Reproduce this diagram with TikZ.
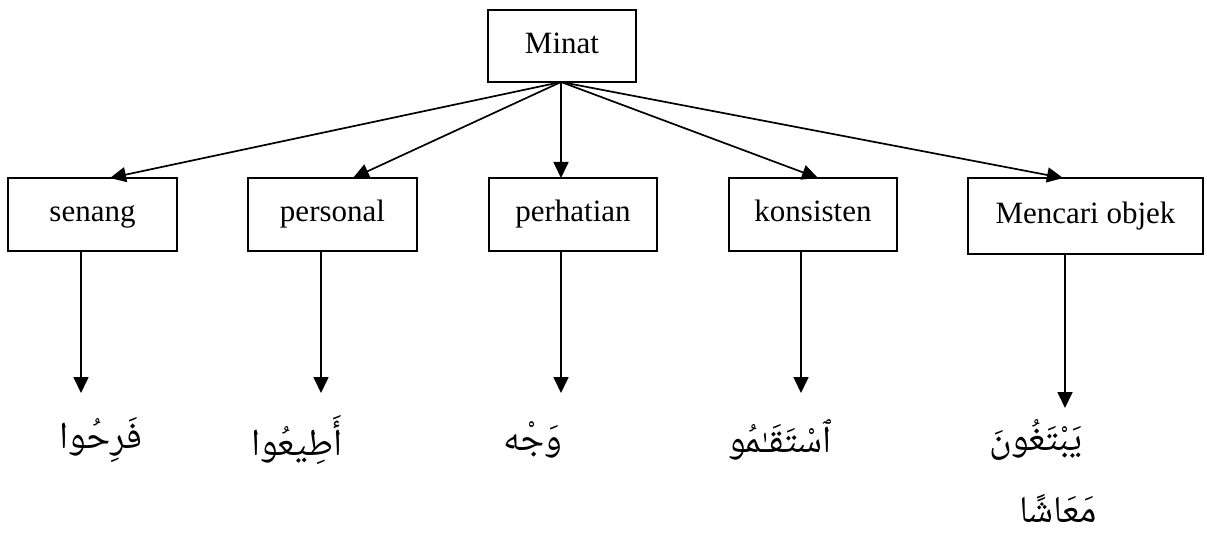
\documentclass[tikz,border=0pt]{standalone}
\usepackage{fontspec}
\setmainfont{Liberation Serif}
\newfontfamily\arabicfont[Script=Arabic]{Noto Naskh Arabic}
\TeXXeTstate=1
\usetikzlibrary{arrows.meta}
\begin{document}
\begin{tikzpicture}[x=1pt,y=-1pt,
  box/.style={draw,line width=1.8pt,minimum height=73pt,inner sep=0pt,font=\fontsize{31}{36}\selectfont,execute at begin node=\strut},
  arr/.style={line width=1.7pt,-{Triangle[length=16pt,width=15pt]}},
  ar/.style={font=\fontsize{38}{46}\selectfont\arabicfont,inner sep=0pt}]
\useasboundingbox (0,0) rectangle (1207,545);
\node[box,minimum width=148pt,minimum height=72pt] (minat) at (562,46) {Minat};
\node[box,minimum width=169pt] (senang) at (92.5,214.5) {senang};
\node[box,minimum width=169pt] (personal) at (332.5,214.5) {personal};
\node[box,minimum width=168pt] (perhatian) at (573,214.5) {perhatian};
\node[box,minimum width=168pt] (konsisten) at (813,214.5) {konsisten};
\node[box,minimum width=235pt,minimum height=76pt] (mencari) at (1085.5,216) {Mencari objek};
% arrow targets on box tops
\coordinate (t1) at (110,178);
\coordinate (t2) at (353,178);
\coordinate (t3) at (561,178);
\coordinate (t4) at (818,178);
\coordinate (t5) at (1063,178);
\coordinate (apex) at (561,82);
\draw[arr] (apex) -- (t1);
\draw[arr] (apex) -- (t2);
\draw[arr] (apex) -- (t3);
\draw[arr] (apex) -- (t4);
\draw[arr] (apex) -- (t5);
% vertical arrows
\coordinate (s1) at (81,251);
\coordinate (s2) at (321,251);
\coordinate (s3) at (561,251);
\coordinate (s4) at (801,251);
\coordinate (s5) at (1065,255);
\coordinate (e1) at (81,393);
\coordinate (e2) at (321,393);
\coordinate (e3) at (561,393);
\coordinate (e4) at (801,393);
\coordinate (e5) at (1065,408);
\draw[arr] (s1) -- (e1);
\draw[arr] (s2) -- (e2);
\draw[arr] (s3) -- (e3);
\draw[arr] (s4) -- (e4);
\draw[arr] (s5) -- (e5);
% Arabic words
\node[ar] (w1) at (101,440) {\beginR فَرِحُوا\endR};
\node[ar] (w2) at (297,440) {\beginR أَطِيعُوا\endR};
\node[ar] (w3) at (533,440) {\beginR وَجْه\endR};
\node[ar] (w4) at (780,440) {\beginR ٱسْتَقَـٰمُو\endR};
\node[ar] (w5) at (1036,440) {\beginR يَبْتَغُونَ\endR};
\node[ar] (w6) at (1058,508) {\beginR مَعَاشًا\endR};
\end{tikzpicture}
\end{document}
